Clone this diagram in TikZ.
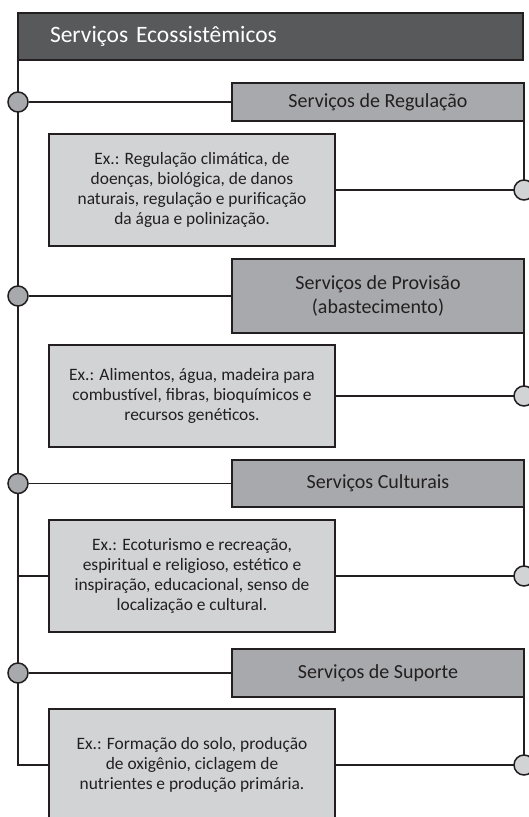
\documentclass[tikz,border=0pt]{standalone}
\usepackage{fontspec}
\setmainfont{Carlito}
\usepackage{tikz}
\usetikzlibrary{positioning}
\definecolor{darkbox}{HTML}{58595B}
\definecolor{midbox}{HTML}{A7A9AC}
\definecolor{lightbox}{HTML}{D1D3D4}
\definecolor{inkline}{HTML}{231F20}

\begin{document}
\begin{tikzpicture}
[
x=1pt, y=-1pt,
line width=1.5pt,
color=inkline,
box-top/.style={rectangle,draw,fill=darkbox,text=white,anchor=north west,outer sep=0pt,
                minimum height=47pt,text width=441pt,inner xsep=32pt,align=left,
                font=\fontsize{23.5}{27}\selectfont},
box-cat/.style={rectangle,draw,fill=midbox,anchor=north west,outer sep=0pt,
                minimum width=292pt,align=center,font=\fontsize{20}{24}\selectfont},
box-ex/.style={rectangle,draw,fill=lightbox,anchor=north west,outer sep=0pt,
               minimum width=286pt,align=center,font=\fontsize{17.4}{20}\selectfont},
dot-l/.style={circle,draw,fill=midbox,minimum size=20pt,inner sep=0pt},
dot-r/.style={circle,draw,fill=lightbox,minimum size=20pt,inner sep=0pt},
]
\useasboundingbox (0,0) rectangle (529,817);
\clip (0,0) rectangle (529,817);

\node (hdr) [box-top] at (18,13)                       {Serviços Ecossistêmicos};
\node (reg) [box-cat, minimum height=38pt] at (232,83)  {Serviços de Regulação};
\node (ex1) [box-ex,  minimum height=112pt] at (49,134) {Ex.: Regulação climática, de \\
                                                         doenças, biológica, de danos \\
                                                         naturais, regulação e purificação \\
                                                         da água e polinização.};
\node (pro) [box-cat, minimum height=74pt] at (232,259) {Serviços de Provisão \\ (abastecimento)};
\node (ex2) [box-ex,  minimum height=102pt] at (49,345) {Ex.: Alimentos, água, madeira para \\
                                                         combustível, fibras, bioquímicos e \\
                                                         recursos genéticos.};
\node (cul) [box-cat, minimum height=47pt] at (232,460) {Serviços Culturais};
\node (ex3) [box-ex,  minimum height=112pt] at (49,520) {Ex.: Ecoturismo e recreação, \\
                                                         espiritual e religioso, estético e \\
                                                         inspiração, educacional, senso de \\
                                                         localização e cultural.};
\node (sup) [box-cat, minimum height=48pt] at (232,649) {Serviços de Suporte};
\node (ex4) [box-ex,  minimum height=112pt] at (49,709) {Ex.: Formação do solo, produção \\
                                                         de oxigênio, ciclagem de \\
                                                         nutrientes e produção primária.};

% left spine
\draw (hdr.south west) |- (ex4.west);
\draw (hdr.south west |- ex3.west) -- (ex3.west);
\node (dl1) [dot-l] at (hdr.south west |- reg.west) {};
\node (dl2) [dot-l] at (hdr.south west |- pro.west) {};
\node (dl3) [dot-l] at (hdr.south west |- cul.west) {};
\node (dl4) [dot-l] at (hdr.south west |- sup.west) {};
\draw (dl1) -- (reg);
\draw (dl2) -- (pro);
\draw (dl3) -- (cul);
\draw (dl4) -- (sup);

% right side
\draw (reg.south east) |- (ex1.east);
\draw (pro.south east) -- (pro.east |- ex2.east) -- (ex2.east);
\draw (cul.south east) |- (ex3.east);
\draw (sup.south east) |- (ex4.east);
\node (dr1) [dot-r] at (reg.east |- ex1.east) {};
\node (dr2) [dot-r] at (pro.east |- ex2.east) {};
\node (dr3) [dot-r] at (cul.east |- ex3.east) {};
\node (dr4) [dot-r] at (sup.east |- ex4.east) {};
\end{tikzpicture}
\end{document}
